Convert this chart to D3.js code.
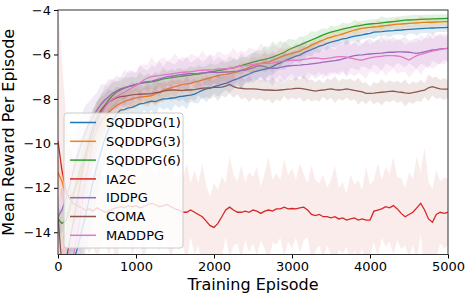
<!DOCTYPE html>
<html>
<head>
<meta charset="utf-8">
<script src="https://cdn.jsdelivr.net/npm/d3@7"></script>
<style>
  body { margin: 0; background: #fff; }
  #graf { width: 465px; height: 295px; }
  text { font-family: 'DejaVu Sans', sans-serif; }
  .eje text { font-size: 13px; fill: #000; }
  .eje line { stroke: #000; }
</style>
</head>
<body>
<div id="graf"></div>
<script>
// I. Datos (un punto cada 50 episodios)
episodios = d3.range(0, 5001, 50)
nombres = ['SQDDPG(1)', 'SQDDPG(3)', 'SQDDPG(6)', 'IA2C', 'IDDPG', 'COMA', 'MADDPG']
colores = ['#1f77b4', '#ff7f0e', '#2ca02c', '#d62728', '#9467bd', '#8c564b', '#e377c2']
ticksX = [0, 1000, 2000, 3000, 4000, 5000]
ticksY = [-14, -12, -10, -8, -6, -4]

sqddpg1 = [
  -16, -16, -16, -15.8, -15.3, -14.7, -14, -13.3, -12.5, -11.7,
  -11, -10.4, -9.8, -9.35, -9.0, -8.7, -8.5, -8.48, -8.4, -8.38,
  -8.3, -8.22, -8.2, -8.15, -8.1, -8.12, -8.05, -8.0, -8.0, -7.96,
  -7.95, -7.9, -7.88, -7.85, -7.83, -7.78, -7.7, -7.62, -7.55, -7.52,
  -7.45, -7.4, -7.35, -7.3, -7.23, -7.15, -7.1, -7.02, -6.95, -6.88,
  -6.8, -6.75, -6.7, -6.66, -6.63, -6.55, -6.45, -6.38, -6.3, -6.22,
  -6.15, -6.08, -6.03, -5.93, -5.85, -5.78, -5.7, -5.63, -5.58, -5.5,
  -5.45, -5.4, -5.35, -5.3, -5.28, -5.22, -5.18, -5.15, -5.12, -5.08,
  -5.05, -5.0, -4.98, -4.97, -4.95, -4.94, -4.93, -4.91, -4.9, -4.88,
  -4.87, -4.86, -4.85, -4.84, -4.83, -4.82, -4.81, -4.8, -4.79, -4.79, -4.78]
sqddpg3 = [
  -11.3, -11.7, -12.3, -12.4, -12.2, -11.8, -11.3, -10.8, -10.3, -9.8,
  -9.4, -9.05, -8.8, -8.6, -8.45, -8.3, -8.2, -8.12, -8.05, -8.0,
  -7.95, -7.92, -7.9, -7.88, -7.85, -7.78, -7.7, -7.62, -7.55, -7.5,
  -7.45, -7.4, -7.35, -7.32, -7.3, -7.25, -7.2, -7.15, -7.1, -7.05,
  -7.0, -6.95, -6.92, -6.9, -6.86, -6.82, -6.78, -6.72, -6.65, -6.58,
  -6.5, -6.45, -6.4, -6.36, -6.33, -6.27, -6.2, -6.12, -6.05, -6.0,
  -5.95, -5.9, -5.85, -5.76, -5.68, -5.58, -5.5, -5.42, -5.35, -5.28,
  -5.22, -5.17, -5.13, -5.07, -5.02, -4.96, -4.9, -4.86, -4.83, -4.8,
  -4.78, -4.76, -4.75, -4.72, -4.7, -4.68, -4.66, -4.64, -4.63, -4.61,
  -4.6, -4.59, -4.58, -4.57, -4.56, -4.55, -4.55, -4.54, -4.53, -4.52, -4.52]
sqddpg6 = [
  -13.4, -13.6, -13.5, -12.9, -12.3, -11.6, -11.0, -10.5, -10.0, -9.5,
  -9.0, -8.6, -8.3, -8.05, -7.85, -7.7, -7.6, -7.52, -7.45, -7.4,
  -7.35, -7.3, -7.28, -7.25, -7.23, -7.2, -7.15, -7.1, -7.08, -7.05,
  -7.02, -7.0, -6.97, -6.95, -6.93, -6.9, -6.88, -6.85, -6.82, -6.79,
  -6.76, -6.73, -6.7, -6.66, -6.63, -6.6, -6.55, -6.5, -6.45, -6.4,
  -6.35, -6.3, -6.25, -6.22, -6.18, -6.12, -6.05, -5.98, -5.9, -5.8,
  -5.72, -5.65, -5.58, -5.5, -5.42, -5.35, -5.28, -5.2, -5.12, -5.05,
  -5.0, -4.95, -4.9, -4.86, -4.82, -4.78, -4.74, -4.71, -4.68, -4.65,
  -4.63, -4.61, -4.6, -4.58, -4.56, -4.54, -4.52, -4.5, -4.48, -4.46,
  -4.45, -4.44, -4.43, -4.42, -4.41, -4.41, -4.4, -4.4, -4.39, -4.39, -4.38]
ia2c = [
  -9.9, -11.2, -12.1, -12.5, -12.7, -12.8, -12.9, -13.0, -12.95, -13.05,
  -12.9, -13.0, -13.1, -13.05, -12.95, -12.9, -12.85, -12.9, -12.8, -12.85,
  -12.8, -12.9, -12.85, -12.75, -12.7, -12.75, -12.85, -12.8, -12.75, -12.85,
  -12.95, -13.0, -13.1, -13.1, -13.0, -13.1, -13.2, -13.3, -13.5, -13.7,
  -13.78, -13.6, -13.3, -13.0, -12.87, -13.0, -13.1, -13.1, -13.05, -13.1,
  -13.0, -13.05, -13.15, -13.05, -13.0, -13.05, -12.95, -12.95, -12.87, -12.95,
  -12.93, -12.95, -12.9, -12.87, -13.0, -13.2, -13.25, -13.2, -13.3, -13.3,
  -13.35, -13.3, -13.4, -13.35, -13.45, -13.4, -13.35, -13.45, -13.4, -13.45,
  -13.45, -13.05, -13.0, -12.95, -12.85, -12.9, -12.8, -12.95, -13.15, -13.3,
  -13.2, -13.1, -12.9, -12.7, -13.0, -13.4, -13.55, -13.2, -13.1, -13.15, -13.1]
iddpg = [
  -13.3, -13.0, -12.5, -11.9, -11.2, -10.6, -10.0, -9.5, -9.1, -8.8,
  -8.5, -8.25, -8.05, -7.9, -7.75, -7.65, -7.55, -7.5, -7.45, -7.4,
  -7.35, -7.3, -7.25, -7.22, -7.2, -7.15, -7.1, -7.05, -7.0, -6.98,
  -6.95, -6.92, -6.9, -6.88, -6.86, -6.86, -6.85, -6.83, -6.82, -6.8,
  -6.8, -6.82, -6.8, -6.79, -6.78, -6.76, -6.75, -6.72, -6.7, -6.65,
  -6.6, -6.52, -6.5, -6.55, -6.6, -6.62, -6.62, -6.58, -6.55, -6.52,
  -6.5, -6.49, -6.48, -6.46, -6.45, -6.42, -6.4, -6.38, -6.35, -6.32,
  -6.3, -6.28, -6.25, -6.2, -6.15, -6.1, -6.05, -6.03, -6.02, -6.0,
  -5.98, -5.96, -5.95, -5.94, -5.92, -5.9, -5.9, -5.88, -5.88, -5.89,
  -5.9, -5.93, -5.95, -5.92, -5.88, -5.84, -5.8, -5.78, -5.75, -5.74, -5.73]
coma = [
  -13.3, -15.5, -15.3, -14.4, -13.5, -12.5, -11.5, -10.6, -9.8, -9.25,
  -8.8, -8.5, -8.3, -8.15, -8.05, -7.95, -7.9, -7.88, -7.85, -7.82,
  -7.8, -7.79, -7.78, -7.77, -7.76, -7.72, -7.7, -7.65, -7.62, -7.6,
  -7.6, -7.62, -7.62, -7.6, -7.6, -7.58, -7.55, -7.52, -7.5, -7.5,
  -7.48, -7.48, -7.47, -7.42, -7.35, -7.45, -7.5, -7.52, -7.55, -7.55,
  -7.55, -7.56, -7.58, -7.6, -7.6, -7.61, -7.62, -7.6, -7.58, -7.56,
  -7.55, -7.53, -7.53, -7.55, -7.58, -7.62, -7.65, -7.62, -7.6, -7.57,
  -7.55, -7.58, -7.6, -7.58, -7.55, -7.58, -7.62, -7.65, -7.68, -7.75,
  -7.75, -7.74, -7.72, -7.7, -7.68, -7.66, -7.65, -7.68, -7.7, -7.73,
  -7.75, -7.72, -7.68, -7.64, -7.6, -7.5, -7.45, -7.5, -7.55, -7.56, -7.56]
maddpg = [
  -15.6, -15.6, -15.5, -15.3, -15.0, -14.1, -13.0, -11.8, -10.8, -9.9,
  -9.2, -8.75, -8.4, -8.15, -8.0, -7.9, -7.8, -7.7, -7.6, -7.5,
  -7.4, -7.28, -7.15, -7.05, -7.0, -6.97, -6.95, -6.92, -6.9, -6.88,
  -6.85, -6.82, -6.8, -6.79, -6.78, -6.75, -6.72, -6.71, -6.7, -6.69,
  -6.68, -6.66, -6.65, -6.64, -6.63, -6.6, -6.55, -6.52, -6.5, -6.48,
  -6.45, -6.42, -6.4, -6.4, -6.4, -6.38, -6.35, -6.32, -6.3, -6.28,
  -6.27, -6.26, -6.25, -6.22, -6.2, -6.17, -6.15, -6.18, -6.2, -6.18,
  -6.15, -6.12, -6.1, -6.1, -6.12, -6.16, -6.2, -6.24, -6.25, -6.2,
  -6.15, -6.12, -6.1, -6.08, -6.05, -6.05, -6.05, -6.07, -6.1, -6.18,
  -6.25, -6.15, -6.05, -6.0, -5.95, -5.9, -5.85, -5.82, -5.78, -5.75, -5.73]

// desviación (semi-ancho de la banda sombreada)
desv1 = [
  0.5, 0.5, 0.8, 1.2, 1.5, 1.8, 2.0, 1.6, 1.8, 1.5,
  1.4, 1.2, 1.0, 0.9, 0.7, 0.6, 0.5, 0.7, 0.4, 0.5,
  0.4, 0.6, 0.3, 0.5, 0.4, 0.7, 0.3, 0.5, 0.4, 0.6,
  0.3, 0.5, 0.4, 0.6, 0.3, 0.4, 0.5, 0.3, 0.6, 0.4,
  0.3, 0.5, 0.4, 0.3, 0.5, 0.4, 0.3, 0.5, 0.3, 0.4,
  0.3, 0.4, 0.3, 0.5, 0.3, 0.4, 0.3, 0.3, 0.4, 0.3,
  0.3, 0.2, 0.4, 0.3, 0.2, 0.3, 0.2, 0.3, 0.2, 0.3,
  0.2, 0.3, 0.2, 0.2, 0.3, 0.2, 0.2, 0.3, 0.2, 0.2,
  0.2, 0.3, 0.2, 0.2, 0.2, 0.3, 0.2, 0.2, 0.2, 0.3,
  0.2, 0.2, 0.3, 0.2, 0.2, 0.2, 0.3, 0.2, 0.2, 0.2, 0.2]
desv3 = [
  0.6, 0.8, 1.0, 1.2, 1.4, 1.6, 1.5, 1.3, 1.4, 1.2,
  1.0, 0.9, 0.8, 0.7, 0.6, 0.5, 0.6, 0.4, 0.5, 0.4,
  0.5, 0.3, 0.4, 0.5, 0.3, 0.4, 0.5, 0.3, 0.4, 0.3,
  0.5, 0.3, 0.4, 0.3, 0.5, 0.3, 0.4, 0.3, 0.3, 0.4,
  0.3, 0.4, 0.3, 0.3, 0.4, 0.3, 0.3, 0.4, 0.3, 0.3,
  0.4, 0.3, 0.3, 0.4, 0.3, 0.3, 0.3, 0.4, 0.3, 0.3,
  0.3, 0.2, 0.3, 0.3, 0.2, 0.3, 0.2, 0.3, 0.2, 0.2,
  0.3, 0.2, 0.2, 0.3, 0.2, 0.2, 0.2, 0.3, 0.2, 0.2,
  0.2, 0.2, 0.3, 0.2, 0.2, 0.2, 0.2, 0.3, 0.2, 0.2,
  0.2, 0.2, 0.2, 0.3, 0.2, 0.2, 0.2, 0.2, 0.2, 0.2, 0.2]
desv6 = [
  0.5, 0.6, 1.0, 1.2, 1.3, 1.4, 1.3, 1.2, 1.1, 1.0,
  0.9, 0.8, 0.7, 0.6, 0.6, 0.5, 0.4, 0.5, 0.4, 0.4,
  0.3, 0.5, 0.3, 0.4, 0.3, 0.4, 0.3, 0.5, 0.3, 0.4,
  0.3, 0.4, 0.3, 0.3, 0.4, 0.3, 0.4, 0.3, 0.3, 0.4,
  0.3, 0.3, 0.4, 0.3, 0.3, 0.4, 0.3, 0.4, 0.3, 0.4,
  0.4, 0.5, 0.4, 0.6, 0.5, 0.7, 0.5, 0.6, 0.4, 0.5,
  0.4, 0.3, 0.4, 0.3, 0.3, 0.4, 0.3, 0.3, 0.3, 0.2,
  0.3, 0.2, 0.2, 0.3, 0.2, 0.2, 0.3, 0.2, 0.2, 0.2,
  0.2, 0.2, 0.2, 0.3, 0.2, 0.2, 0.2, 0.2, 0.2, 0.2,
  0.2, 0.2, 0.2, 0.2, 0.2, 0.2, 0.2, 0.2, 0.2, 0.2, 0.2]
desvIa2c = [
  6.0, 5.0, 3.5, 2.5, 2.0, 1.8, 2.2, 1.6, 2.0, 1.5,
  2.4, 1.6, 1.2, 2.0, 1.5, 2.8, 1.4, 1.8, 1.2, 2.2,
  1.6, 1.3, 2.6, 1.5, 1.8, 1.2, 2.0, 1.4, 1.7, 2.5,
  1.3, 1.8, 1.5, 2.2, 1.2, 1.9, 1.4, 2.4, 1.6, 1.3,
  2.0, 1.5, 1.8, 1.2, 2.3, 1.6, 1.4, 2.1, 1.3, 1.8,
  1.5, 2.0, 1.2, 1.7, 2.4, 1.4, 1.6, 1.3, 2.2, 1.5,
  1.8, 1.3, 2.0, 1.5, 1.2, 2.2, 1.6, 1.4, 1.9, 1.3,
  1.7, 2.3, 1.4, 1.6, 1.2, 2.0, 1.5, 1.8, 1.3, 2.4,
  1.6, 1.4, 2.1, 1.3, 1.8, 1.5, 2.2, 1.4, 1.6, 1.3,
  1.9, 1.5, 2.3, 1.4, 2.8, 1.7, 1.5, 2.0, 1.4, 1.6, 1.5]
desvIddpg = [
  0.8, 1.0, 1.2, 1.4, 1.5, 1.4, 1.3, 1.2, 1.0, 0.9,
  0.8, 0.9, 0.7, 0.8, 0.6, 0.7, 0.5, 0.8, 0.6, 0.7,
  0.5, 0.8, 0.6, 0.5, 0.7, 0.6, 0.8, 0.5, 0.7, 0.6,
  0.5, 0.7, 0.6, 0.8, 0.5, 0.6, 0.7, 0.5, 0.6, 0.8,
  0.5, 0.7, 0.6, 0.5, 0.7, 0.6, 0.5, 0.8, 0.6, 0.5,
  0.7, 0.6, 0.5, 0.7, 0.6, 0.8, 0.5, 0.6, 0.7, 0.5,
  0.6, 0.7, 0.5, 0.6, 0.8, 0.5, 0.7, 0.6, 0.5, 0.7,
  0.6, 0.5, 0.7, 0.6, 0.8, 0.5, 0.6, 0.7, 0.5, 0.6,
  0.7, 0.5, 0.6, 0.8, 0.5, 0.6, 0.7, 0.5, 0.6, 0.7,
  0.5, 0.6, 0.7, 0.5, 0.6, 0.8, 0.5, 0.6, 0.7, 0.5, 0.6]
desvComa = [
  1.0, 1.2, 1.3, 1.4, 1.3, 1.2, 1.1, 1.0, 0.9, 0.8,
  0.7, 0.6, 0.5, 0.6, 0.4, 0.5, 0.4, 0.5, 0.4, 0.6,
  0.4, 0.5, 0.3, 0.5, 0.4, 0.6, 0.4, 0.5, 0.3, 0.5,
  0.4, 0.5, 0.4, 0.6, 0.4, 0.5, 0.3, 0.5, 0.4, 0.5,
  0.4, 0.6, 0.4, 0.5, 0.4, 0.5, 0.3, 0.5, 0.4, 0.6,
  0.4, 0.5, 0.4, 0.5, 0.4, 0.6, 0.4, 0.5, 0.3, 0.5,
  0.4, 0.5, 0.4, 0.6, 0.4, 0.5, 0.4, 0.5, 0.3, 0.5,
  0.4, 0.6, 0.4, 0.5, 0.4, 0.5, 0.4, 0.6, 0.4, 0.5,
  0.3, 0.5, 0.4, 0.6, 0.4, 0.5, 0.4, 0.5, 0.4, 0.6,
  0.4, 0.5, 0.4, 0.5, 0.3, 0.6, 0.4, 0.5, 0.4, 0.5, 0.4]
desvMaddpg = [
  0.6, 0.8, 1.0, 1.3, 1.6, 1.8, 1.6, 1.4, 1.2, 1.1,
  1.0, 0.9, 1.0, 0.8, 0.9, 0.7, 0.8, 0.6, 0.9, 0.7,
  0.6, 0.8, 0.7, 0.6, 0.9, 0.6, 0.7, 0.8, 0.6, 0.7,
  0.9, 0.6, 0.7, 0.6, 0.8, 0.7, 0.6, 0.9, 0.6, 0.7,
  0.6, 0.8, 0.7, 0.6, 0.7, 0.9, 0.6, 0.7, 0.6, 0.8,
  0.7, 0.6, 0.9, 0.7, 0.6, 0.8, 0.7, 0.6, 0.9, 0.7,
  0.6, 0.8, 0.7, 0.9, 0.6, 0.7, 0.8, 0.6, 0.9, 0.7,
  0.6, 0.8, 0.7, 0.6, 0.9, 0.7, 0.8, 0.6, 0.7, 0.9,
  0.6, 0.7, 0.8, 0.6, 0.9, 0.7, 0.6, 0.8, 0.7, 0.6,
  0.8, 0.7, 0.6, 0.9, 0.7, 0.6, 0.8, 0.7, 0.6, 0.7, 0.6]

medias = [sqddpg1, sqddpg3, sqddpg6, ia2c, iddpg, coma, maddpg]
desvs = [desv1, desv3, desv6, desvIa2c, desvIddpg, desvComa, desvMaddpg]
opacidades = [0.14, 0.14, 0.14, 0.09, 0.13, 0.14, 0.13]

// II. Configuración
ancho_total = 465
alto_total = 295
margins = { top: 10, left: 58, right: 17, bottom: 40.5 }
ancho = ancho_total - margins.left - margins.right
alto = alto_total - margins.top - margins.bottom

svg = d3.select('#graf').append('svg')
  .attr('width', ancho_total)
  .attr('height', alto_total)

g = svg.append('g')
  .attr('transform', `translate(${ margins.left }, ${ margins.top })`)

x = d3.scaleLinear().domain([0, 5000]).range([0, ancho])
y = d3.scaleLinear().domain([-15, -4]).range([alto, 0])

svg.append('defs').append('clipPath').attr('id', 'recorte')
  .append('rect').attr('width', ancho).attr('height', alto)

datos = g.append('g').attr('clip-path', 'url(#recorte)')

// III. Series: banda + línea
nombres.forEach((nombre, k) => {
  serie = episodios.map((ep, i) => ({ ep: ep, m: medias[k][i], s: desvs[k][i] }))

  area = d3.area()
    .x(d => x(d.ep))
    .y0(d => y(d.m - d.s))
    .y1(d => y(d.m + d.s))

  linea = d3.line()
    .x(d => x(d.ep))
    .y(d => y(d.m))

  datos.append('path')
    .datum(serie)
    .attr('d', area)
    .attr('fill', colores[k])
    .attr('fill-opacity', opacidades[k])
    .attr('stroke', 'none')

  datos.append('path')
    .datum(serie)
    .attr('d', linea)
    .attr('fill', 'none')
    .attr('stroke', colores[k])
    .attr('stroke-width', 1.3)
})

// IV. Ejes
xAxisGroup = g.append('g')
  .attr('class', 'eje')
  .attr('transform', `translate(0, ${ alto })`)
  .call(d3.axisBottom(x).tickValues(ticksX).tickSize(4).tickPadding(3).tickFormat(d3.format('d')))
yAxisGroup = g.append('g')
  .attr('class', 'eje')
  .call(d3.axisLeft(y).tickValues(ticksY).tickSize(4).tickPadding(3).tickFormat(d3.format('d')))

g.selectAll('.eje .domain').remove()
g.selectAll('.eje text').style('font-size', '13px').style('font-family', "'DejaVu Sans', sans-serif")

g.append('rect')
  .attr('width', ancho)
  .attr('height', alto)
  .attr('fill', 'none')
  .attr('stroke', '#333')
  .attr('stroke-width', 1)

// etiquetas
g.append('text')
  .attr('x', ancho / 2)
  .attr('y', alto + 35)
  .attr('text-anchor', 'middle')
  .style('font-size', '16px')
  .text('Training Episode')

g.append('text')
  .attr('transform', `translate(${ -44 }, ${ alto / 2 }) rotate(-90)`)
  .attr('text-anchor', 'middle')
  .style('font-size', '16px')
  .text('Mean Reward Per Episode')

// V. Leyenda
leyenda = svg.append('g').attr('transform', 'translate(64, 113)')
leyenda.append('rect')
  .attr('width', 119)
  .attr('height', 135)
  .attr('rx', 3)
  .attr('fill', '#fff')
  .attr('fill-opacity', 0.8)
  .attr('stroke', '#ccc')

items = leyenda.selectAll('g.item')
  .data(nombres)
  .enter()
  .append('g')
  .attr('class', 'item')
  .attr('transform', (d, i) => `translate(0, ${ 9.5 + i * 18.8 })`)

items.append('line')
  .attr('x1', 6).attr('x2', 32)
  .attr('stroke', (d, i) => colores[i])
  .attr('stroke-width', 1.5)

items.append('text')
  .attr('x', 42)
  .attr('dy', '0.36em')
  .style('font-size', '13px')
  .text(d => d)
</script>
</body>
</html>
